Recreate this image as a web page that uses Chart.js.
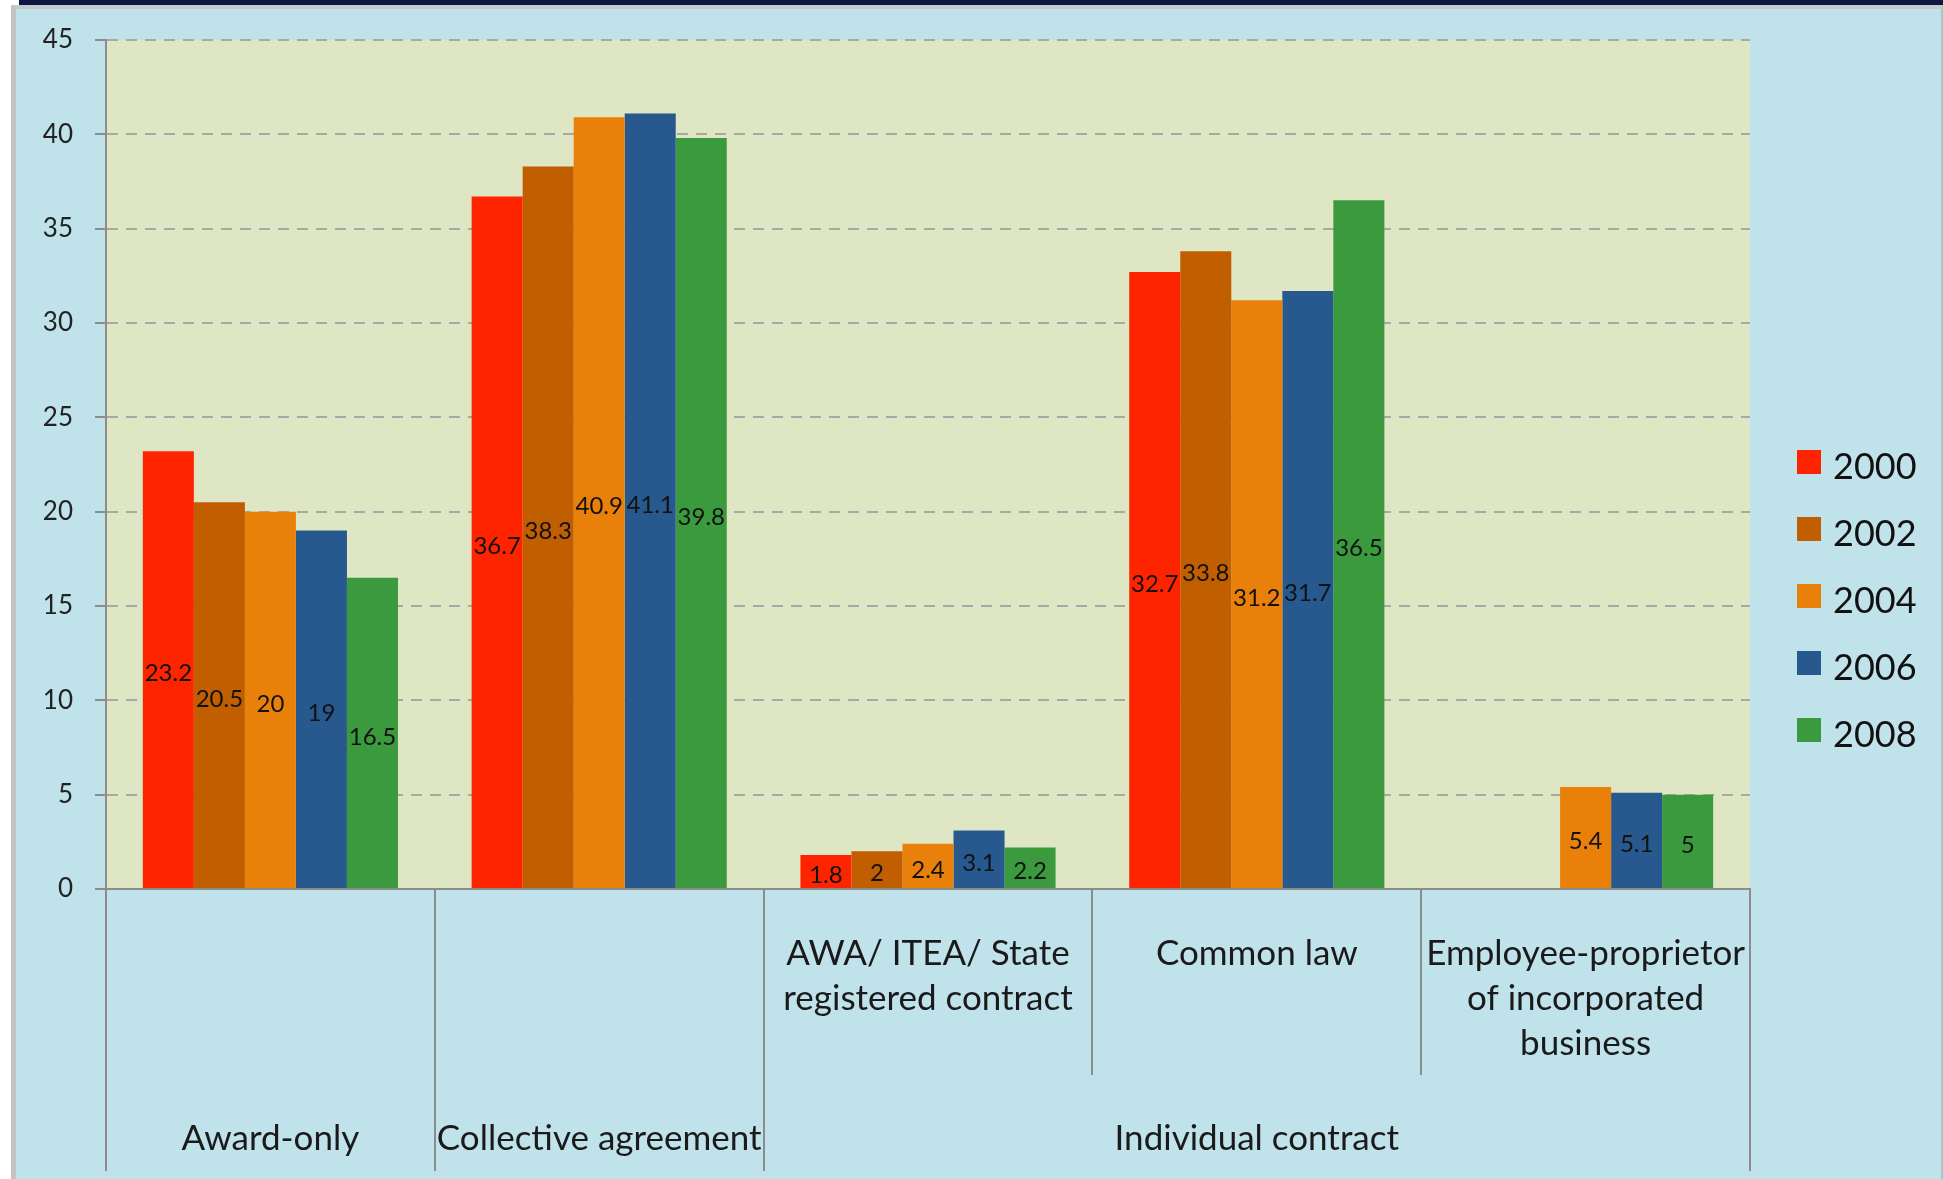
<!DOCTYPE html>
<html>
<head>
<meta charset="utf-8">
<title>Employment arrangements, 2000-2008</title>
<script src="https://cdn.jsdelivr.net/npm/chart.js@4.4.1/dist/chart.umd.min.js"></script>
<style>
  html, body { margin: 0; padding: 0; background: #fff; overflow: hidden; }
  #topbar { position: absolute; left: 19px; top: 0; width: 1924px; height: 5px; background: #0c1642; }
  #frame {
    position: absolute; left: 11px; top: 5px; width: 1925px; height: 1170px;
    background: #c0e2ea;
    border-left: 5px solid #c4c4c4;
    border-top: 4px solid #c8c8c8;
    border-right: 2px solid #a9c6ce;
  }
  #wrap { position: absolute; left: 0; top: 0; width: 1943px; height: 1179px; }
</style>
</head>
<body>
<div id="topbar"></div>
<div id="frame"></div>
<div id="wrap"><canvas id="chart"></canvas></div>
<script>
// Inner (category) labels and the outer groups they belong to
const tickLabels = ['', '', ['AWA/ ITEA/ State', 'registered contract'], 'Common law', ['Employee-proprietor', 'of incorporated', 'business']];
const groupLabels = ['Award-only', 'Collective agreement', 'Individual contract'];
const groupSizes = [1, 1, 3];

const years = ['2000', '2002', '2004', '2006', '2008'];
const y2000 = [23.2, 36.7, 1.8, 32.7, null];
const y2002 = [20.5, 38.3, 2, 33.8, null];
const y2004 = [20, 40.9, 2.4, 31.2, 5.4];
const y2006 = [19, 41.1, 3.1, 31.7, 5.1];
const y2008 = [16.5, 39.8, 2.2, 36.5, 5];
const yTicks = [0, 5, 10, 15, 20, 25, 30, 35, 40, 45];

const palette = ['#ff2400', '#c05e00', '#e8800a', '#27598f', '#3a9a3d'];
const FONT = 'Lato, "DejaVu Sans", sans-serif';
const axisGrey = '#8c8c8c';
const catFontSize = 35;

const series = [y2000, y2002, y2004, y2006, y2008];

// pale fill behind the plotting area
const plotBackground = {
  id: 'plotBackground',
  beforeDraw(chart) {
    const { ctx, chartArea: a } = chart;
    ctx.save();
    ctx.fillStyle = '#dfe6c4';
    ctx.fillRect(a.left, a.top, a.right - a.left, a.bottom - a.top);
    ctx.restore();
  }
};

// value printed in the middle of each bar
const barValues = {
  id: 'barValues',
  afterDatasetsDraw(chart) {
    const ctx = chart.ctx;
    ctx.save();
    ctx.font = '24px ' + FONT;
    ctx.fillStyle = '#111';
    ctx.textAlign = 'center';
    ctx.textBaseline = 'middle';
    chart.data.datasets.forEach((ds, i) => {
      chart.getDatasetMeta(i).data.forEach((bar, j) => {
        const v = ds.data[j];
        if (v === null || v === undefined) return;
        ctx.fillText(String(v), bar.x, (bar.y + bar.base) / 2 + 4);
      });
    });
    ctx.restore();
  }
};

// separators under the category axis and the outer group names
const groupAxis = {
  id: 'groupAxis',
  afterDraw(chart) {
    const { ctx } = chart;
    const x = chart.scales.x;
    const n = chart.data.labels.length;
    const step = (x.right - x.left) / n;
    const top = x.top;
    const bottom = x.bottom;
    const innerBottom = top + 186;

    ctx.save();
    ctx.strokeStyle = axisGrey;
    ctx.lineWidth = 2;

    const groupEdges = [0];
    groupSizes.forEach(s => groupEdges.push(groupEdges[groupEdges.length - 1] + s));

    for (let i = 0; i <= n; i++) {
      const px = Math.round(x.left + i * step);
      const full = groupEdges.includes(i);
      ctx.beginPath();
      ctx.moveTo(px, top);
      ctx.lineTo(px, full ? bottom : innerBottom);
      ctx.stroke();
    }

    ctx.font = catFontSize + 'px ' + FONT;
    ctx.fillStyle = '#1a1a1a';
    ctx.textAlign = 'center';
    ctx.textBaseline = 'middle';
    groupLabels.forEach((name, g) => {
      const l = x.left + groupEdges[g] * step;
      const r = x.left + groupEdges[g + 1] * step;
      ctx.fillText(name, (l + r) / 2, bottom - 32);
    });
    ctx.restore();
  }
};

// legend down the right-hand side
const sideLegend = {
  id: 'sideLegend',
  afterDraw(chart) {
    const { ctx } = chart;
    ctx.save();
    ctx.font = '36px ' + FONT;
    ctx.textBaseline = 'middle';
    ctx.textAlign = 'left';
    chart.data.datasets.forEach((ds, i) => {
      const cy = 465 + i * 67;
      ctx.fillStyle = ds.backgroundColor;
      ctx.fillRect(1797, cy - 15, 24, 24);
      ctx.fillStyle = '#111';
      ctx.fillText(ds.label, 1833, cy + 2);
    });
    ctx.restore();
  }
};

new Chart(document.getElementById('chart'), {
  type: 'bar',
  data: {
    labels: tickLabels,
    datasets: years.map((yr, i) => ({
      label: yr,
      data: series[i],
      backgroundColor: palette[i],
      borderWidth: 0,
      barPercentage: 1,
      categoryPercentage: 0.776
    }))
  },
  options: {
    responsive: true,
    maintainAspectRatio: false,
    animation: false,
    layout: { padding: { left: 0, right: 193, top: 40, bottom: 8 } },
    plugins: {
      legend: { display: false },
      tooltip: { enabled: false }
    },
    scales: {
      x: {
        grid: { display: false },
        border: { display: true, color: axisGrey, width: 2 },
        ticks: {
          font: { family: FONT, size: catFontSize, lineHeight: 45 / catFontSize },
          color: '#1a1a1a',
          padding: 34,
          maxRotation: 0,
          autoSkip: false
        },
        afterFit(scale) { scale.height = 282; }
      },
      y: {
        min: 0,
        max: 45,
        afterBuildTicks(scale) { scale.ticks = yTicks.map(v => ({ value: v })); },
        grid: {
          color: '#a8a8a8',
          lineWidth: 2,
          borderDash: [11, 8],
          tickLength: 11,
          tickColor: axisGrey,
          tickBorderDash: []
        },
        border: { display: true, color: axisGrey, width: 2, dash: [11, 8] },
        ticks: {
          font: { family: FONT, size: 26 },
          color: '#222',
          padding: 22
        },
        afterFit(scale) { scale.width = 106; }
      }
    }
  },
  plugins: [plotBackground, barValues, groupAxis, sideLegend]
});
</script>
</body>
</html>
